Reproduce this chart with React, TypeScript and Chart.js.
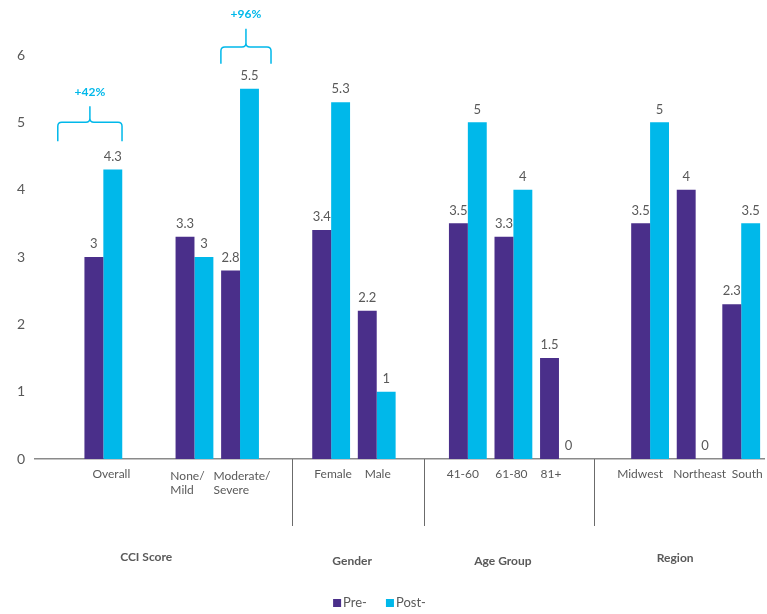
import { useEffect, useRef } from "react";
import { Chart, registerables } from "chart.js";

Chart.register(...registerables);

// Category slots; empty strings act as spacers between the groups
const categories: (string | string[])[] = [
  "", "Overall", "", ["None/", "Mild"], ["Moderate/", "Severe"], "",
  "Female", "Male", "", "41-60", "61-80", "81+", "", "Midwest", "Northeast", "South",
];
const preValues = [null, 3, null, 3.3, 2.8, null, 3.4, 2.2, null, 3.5, 3.3, 1.5, null, 3.5, 4, 2.3];
const postValues = [null, 4.3, null, 3, 5.5, null, 5.3, 1, null, 5, 4, 0, null, 5, 0, 3.5];
const yTicks = [0, 1, 2, 3, 4, 5, 6];
const seriesNames = ["Pre-", "Post-"];
const groupNames = ["CCI Score", "Gender", "Age Group", "Region"];
const changeLabels = ["+42%", "+96%"];

// Placement of the annotations (category units on x, value units on y, px nudges)
const tickShift = [0, 8, 0, -7, 2, 0, 2, 1, 0, -5, -2, -8, 0, -10, 4, 6];
const groupLabelAt = [1.94, 6.46, 9.77, 13.55];
const groupLabelDrop = [98, 102, 102, 99];
const separatorAt = [5.14, 8.04, 11.77];
const bracketSpans = [
  { from: 0.0, to: 1.41, top: 5.0, end: 4.72, tip: 5.24, text: 5.45 },
  { from: 3.58, to: 4.68, top: 6.12, end: 5.87, tip: 6.39, text: 6.6 },
];

const PURPLE = "#4a2f8a";
const CYAN = "#00b8ea";
const TEXT = "#595959";
const FONT = "Lato, 'Noto Sans', sans-serif";

const annotations = {
  id: "annotations",
  afterDatasetsDraw(chart: any) {
    const { ctx, scales } = chart;
    const x = scales.x;
    const y = scales.y;
    const base = y.getPixelForValue(0);
    ctx.save();

    // value labels above each bar
    ctx.font = `13px ${FONT}`;
    ctx.fillStyle = TEXT;
    ctx.textAlign = "center";
    ctx.textBaseline = "middle";
    chart.data.datasets.forEach((ds: any, i: number) => {
      const meta = chart.getDatasetMeta(i);
      meta.data.forEach((el: any, j: number) => {
        const v = ds.data[j];
        if (v === null || v === undefined) return;
        ctx.fillText(String(v), el.x, el.y - 13);
      });
    });

    // category labels under the axis (multi-line ones are left aligned)
    ctx.font = `12px ${FONT}`;
    ctx.fillStyle = TEXT;
    categories.forEach((label, i) => {
      if (!label) return;
      const cx = x.getPixelForValue(i) + tickShift[i];
      if (Array.isArray(label)) {
        const w = Math.max(...label.map((l) => ctx.measureText(l).width));
        ctx.textAlign = "left";
        label.forEach((line, k) => ctx.fillText(line, cx - w / 2, base + 17 + k * 14));
        ctx.textAlign = "center";
      } else {
        ctx.fillText(label, cx, base + 15);
      }
    });

    // group separators below the axis
    ctx.strokeStyle = "#6b6b6b";
    ctx.lineWidth = 1;
    separatorAt.forEach((v) => {
      const px = Math.round(x.getPixelForValue(v)) + 0.5;
      ctx.beginPath();
      ctx.moveTo(px, base);
      ctx.lineTo(px, base + 67);
      ctx.stroke();
    });

    // group names
    ctx.font = `bold 12px ${FONT}`;
    ctx.fillStyle = TEXT;
    groupNames.forEach((name, i) => {
      ctx.fillText(name, x.getPixelForValue(groupLabelAt[i]), base + groupLabelDrop[i]);
    });

    // change brackets
    ctx.strokeStyle = CYAN;
    ctx.lineWidth = 1.5;
    const r = 4;
    bracketSpans.forEach((b, i) => {
      const x0 = x.getPixelForValue(b.from);
      const x1 = x.getPixelForValue(b.to);
      const xm = (x0 + x1) / 2;
      const yt = y.getPixelForValue(b.top);
      const ye = y.getPixelForValue(b.end);
      const yp = y.getPixelForValue(b.tip);
      ctx.beginPath();
      ctx.moveTo(x0, ye);
      ctx.lineTo(x0, yt + r);
      ctx.quadraticCurveTo(x0, yt, x0 + r, yt);
      ctx.lineTo(xm - r, yt);
      ctx.quadraticCurveTo(xm, yt, xm, yt - r);
      ctx.lineTo(xm, yp);
      ctx.moveTo(x1, ye);
      ctx.lineTo(x1, yt + r);
      ctx.quadraticCurveTo(x1, yt, x1 - r, yt);
      ctx.lineTo(xm + r, yt);
      ctx.quadraticCurveTo(xm, yt, xm, yt - r);
      ctx.stroke();
      ctx.font = `bold 12px ${FONT}`;
      ctx.fillStyle = CYAN;
      ctx.fillText(changeLabels[i], xm, y.getPixelForValue(b.text));
    });

    // legend
    ctx.font = `13px ${FONT}`;
    ctx.textAlign = "left";
    const colors = chart.data.datasets.map((d: any) => d.backgroundColor);
    const names = chart.data.datasets.map((d: any) => d.label);
    const box = 8;
    const gap = 2;
    const itemGap = 19;
    const widths = names.map((n: string) => box + gap + ctx.measureText(n).width);
    const total = widths.reduce((a: number, b: number) => a + b, 0) + itemGap * (names.length - 1);
    let lx = chart.width / 2 - total / 2 - 4;
    const ly = base + 144;
    names.forEach((n: string, i: number) => {
      ctx.fillStyle = colors[i];
      ctx.fillRect(lx, ly - box / 2, box, box);
      ctx.fillStyle = TEXT;
      ctx.fillText(n, lx + box + gap, ly);
      lx += widths[i] + itemGap;
    });

    ctx.restore();
  },
};

export default function App() {
  const ref = useRef<HTMLCanvasElement | null>(null);

  useEffect(() => {
    if (!ref.current) return;
    const chart = new Chart(ref.current, {
      type: "bar",
      data: {
        labels: categories,
        datasets: [
          { label: seriesNames[0], data: preValues, backgroundColor: PURPLE },
          { label: seriesNames[1], data: postValues, backgroundColor: CYAN },
        ],
      },
      options: {
        responsive: false,
        animation: false,
        layout: { padding: { top: 55, right: 3, bottom: 0, left: 0 } },
        datasets: { bar: { categoryPercentage: 0.83, barPercentage: 1, borderWidth: 0 } },
        plugins: {
          tooltip: { enabled: false },
          legend: { display: false },
        },
        scales: {
          x: {
            grid: { display: false, drawTicks: false },
            border: { display: true, color: "#8a8a8a", width: 1.5 },
            ticks: { display: false, autoSkip: false },
            afterFit(scale: any) {
              scale.height = 155;
            },
          },
          y: {
            min: 0,
            max: yTicks[yTicks.length - 1],
            grid: { display: false, drawTicks: false },
            border: { display: false },
            afterBuildTicks(scale: any) {
              scale.ticks = yTicks.map((v) => ({ value: v }));
            },
            ticks: {
              color: TEXT,
              font: { family: FONT, size: 14 },
              padding: 10,
            },
            afterFit(scale: any) {
              scale.width = 35;
            },
          },
        },
      },
      plugins: [annotations],
    });
    return () => chart.destroy();
  }, []);

  return (
    <div style={{ position: "fixed", left: 0, top: 0, width: 767, height: 614, background: "#fff" }}>
      <canvas ref={ref} width={767} height={614} />
    </div>
  );
}
